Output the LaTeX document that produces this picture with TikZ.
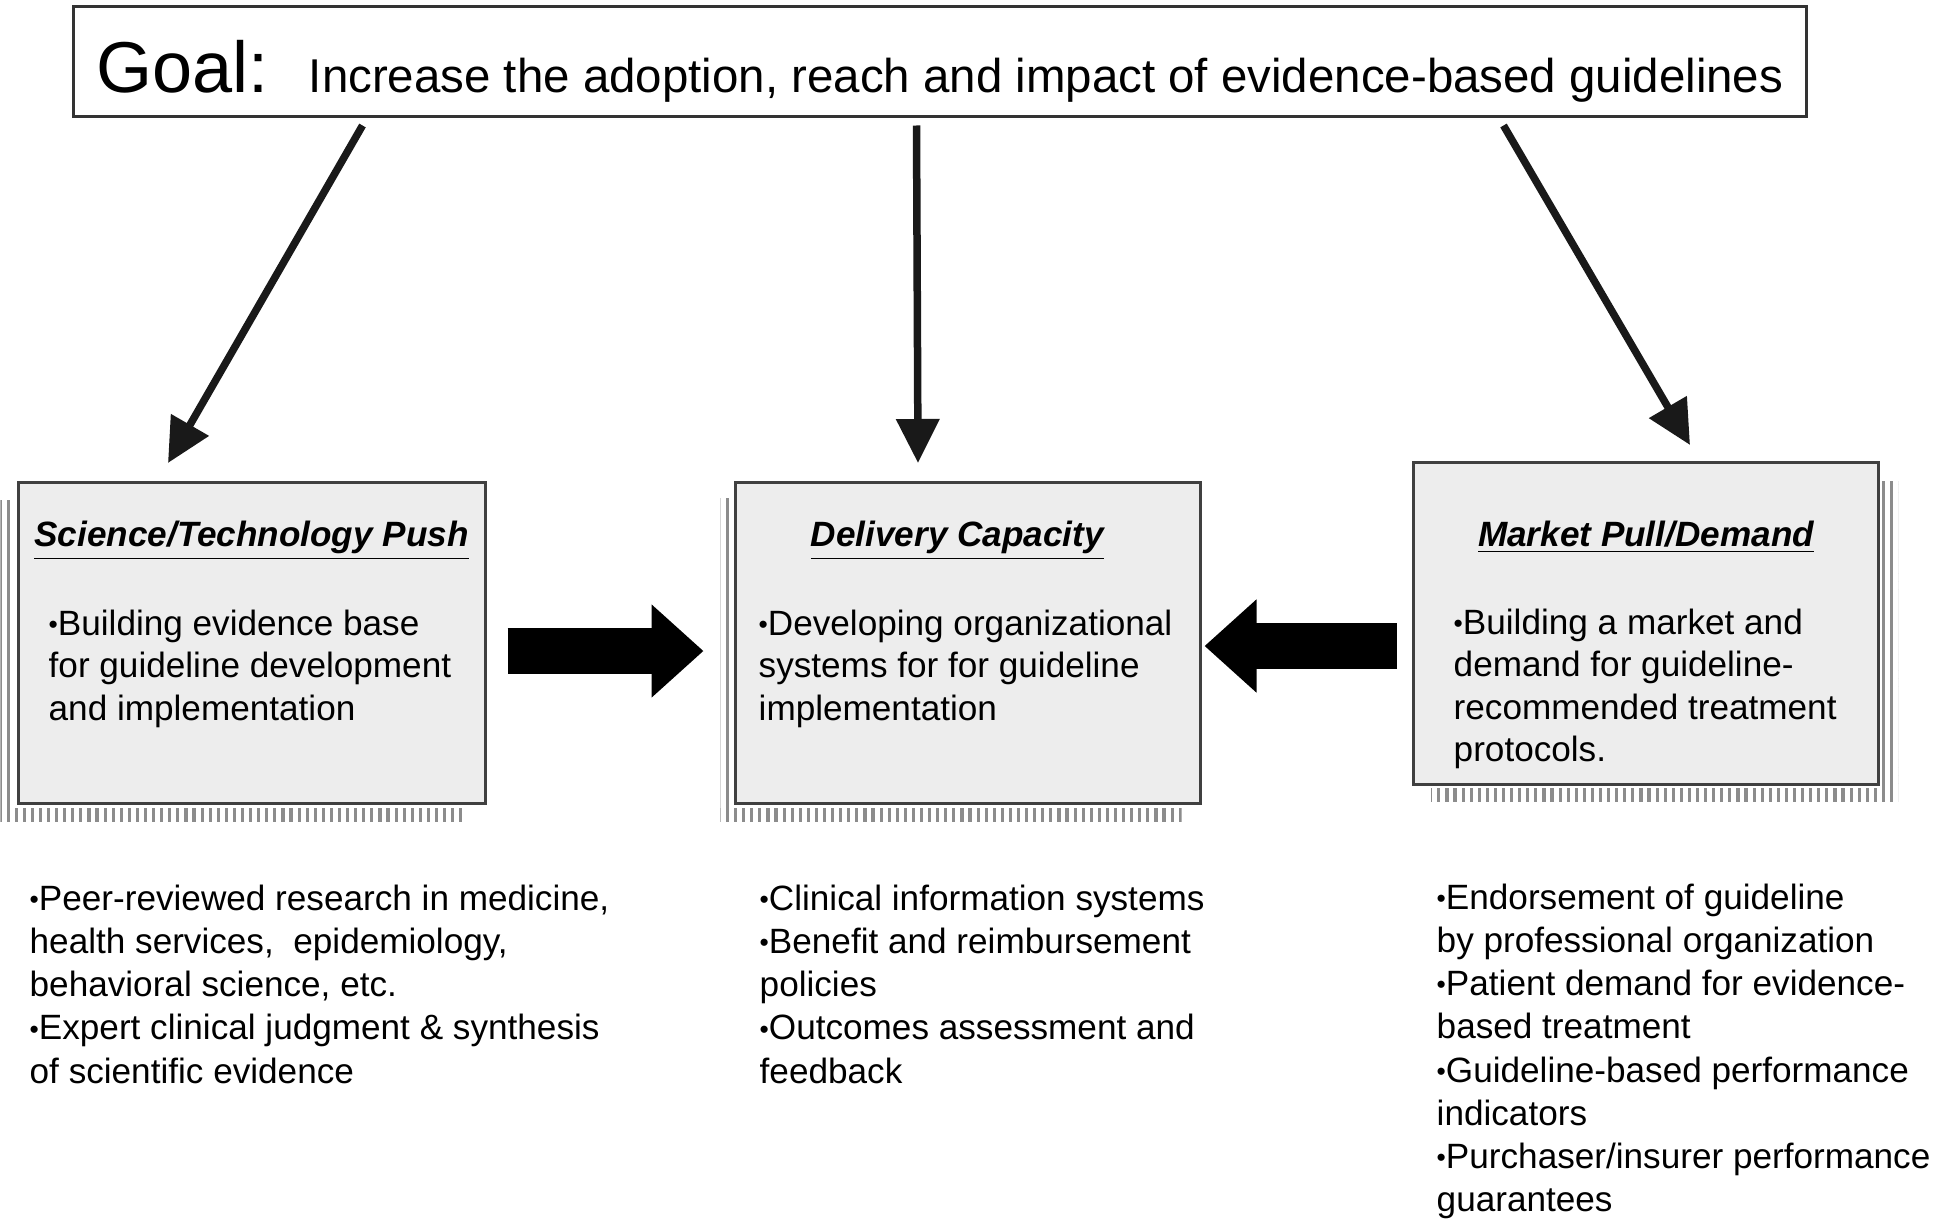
\documentclass[tikz,border=0pt]{standalone}
\usepackage{fontspec}
\setmainfont{Liberation Sans}
\usetikzlibrary{positioning, calc, arrows.meta, patterns.meta}

\newcommand{\dotmark}{\raisebox{0.05em}{\scalebox{0.75}{\textbullet}}}

\begin{document}
\begin{tikzpicture}[
            goalbox/.style={rectangle, draw=black!80, line width=0.03cm, fill=white, minimum width=17.32cm, minimum height=1.10cm, inner sep=0pt, text height=0.86cm, text depth=0.24cm},
            pillar/.style={rectangle, draw=black!75, line width=0.03cm, fill=black!7, inner sep=0pt},
            heading/.style={font=\fontsize{10}{12}\selectfont\bfseries\itshape, anchor=base, inner sep=0pt},
            boxtext/.style={font=\fontsize{10}{12.1}\selectfont, align=left, anchor=north west, inner sep=0pt},
            listtext/.style={font=\fontsize{10}{12.3}\selectfont, align=left, anchor=north west, inner sep=0pt},
            stripes/.style={pattern={Lines[angle=90, distance=2.3pt, line width=0.9pt]}, pattern color=black!45},
            goalarrow/.style={-{Triangle[length=0.44cm, width=0.42cm]}, line width=0.075cm, black!90},
            blockarrow/.style={-{Triangle[length=0.52cm, width=0.90cm]}, line width=0.46cm, black}
        ]
            \useasboundingbox (0,0) rectangle (19.46,-12.24);

            % --- goal ---
            \node[goalbox] (goal) at (9.40,-0.62) {{\fontsize{20.5}{24}\selectfont Goal:}\hspace{0.40cm}{\fontsize{13.5}{16}\selectfont Increase the adoption, reach and impact of evidence-based guidelines}};

            % --- three pillars ---
            \node[pillar, minimum width=4.67cm, minimum height=3.21cm] (sci) at (2.515,-6.425) {};
            \node[pillar, minimum width=4.65cm, minimum height=3.21cm] (deliv) at (9.675,-6.425) {};
            \node[pillar, minimum width=4.65cm, minimum height=3.22cm] (market) at (16.46,-6.235) {};

            % striped shadows
            \fill[stripes] ($(sci.north west)+(-0.16,-0.20)$) rectangle ($(sci.south west)+(-0.03,-0.17)$);
            \fill[stripes] ($(sci.south west)+(-0.06,-0.04)$) rectangle ($(sci.south east)+(-0.22,-0.17)$);
            \fill[stripes] ($(deliv.north west)+(-0.13,-0.18)$) rectangle ($(deliv.south west)+(-0.02,-0.17)$);
            \fill[stripes] ($(deliv.south west)+(-0.13,-0.04)$) rectangle ($(deliv.south east)+(-0.20,-0.17)$);
            \fill[stripes] ($(market.north east)+(0.02,-0.20)$) rectangle ($(market.south east)+(0.18,-0.15)$);
            \fill[stripes] ($(market.south west)+(0.19,-0.02)$) rectangle ($(market.south east)+(0.06,-0.15)$);

            % headings
            \node[heading] (sciHead) at ($(sci.north)+(0,-0.66)$) {\underline{Science/Technology Push}};
            \node[heading] (delivHead) at ($(deliv.north)+(-0.10,-0.66)$) {\underline{Delivery Capacity}};
            \node[heading] (marketHead) at ($(market.north)+(0,-0.85)$) {\underline{Market Pull/Demand}};

            % text in the boxes
            \node[boxtext] (sciText) at (0.48,-6.09) {\dotmark Building evidence base\\for guideline development\\and implementation};
            \node[boxtext] (delivText) at (7.58,-6.09) {\dotmark Developing organizational\\systems for for guideline\\implementation};
            \node[boxtext] (marketText) at (14.53,-6.08) {\dotmark Building a market and\\demand for guideline-\\recommended treatment\\protocols.};

            % --- lists under the boxes ---
            \node[listtext] (sciList) at (0.29,-8.84) {\dotmark Peer-reviewed research in medicine,\\health services,\ \ epidemiology,\\behavioral science, etc.\\\dotmark Expert clinical judgment \& synthesis\\of scientific evidence};
            \node[listtext] (delivList) at (7.59,-8.84) {\dotmark Clinical information systems\\\dotmark Benefit and reimbursement\\policies\\\dotmark Outcomes assessment and\\feedback};
            \node[listtext] (marketList) at (14.36,-8.83) {\dotmark Endorsement of guideline\\by professional organization\\\dotmark Patient demand for evidence-\\based treatment\\\dotmark Guideline-based performance\\indicators\\\dotmark Purchaser/insurer performance\\guarantees};

            % --- arrows from the goal ---
            \coordinate (pushTip) at (1.68,-4.63);
            \coordinate (delivTip) at (9.18,-4.63);
            \coordinate (pullTip) at (16.90,-4.45);
            \draw[goalarrow] ($(goal.south west)+(2.90,-0.07)$) -- (pushTip);
            \draw[goalarrow] ($(goal.south west)+(8.44,-0.07)$) -- (delivTip);
            \draw[goalarrow] ($(goal.south west)+(14.31,-0.07)$) -- (pullTip);

            % --- block arrows into delivery ---
            \draw[blockarrow, shorten <=0.21cm, shorten >=0.30cm] ([yshift=-0.085cm]sci.east) -- ([yshift=-0.085cm]deliv.west);
            \draw[blockarrow, shorten <=0.15cm, shorten >=0.03cm] ([yshift=-0.225cm]market.west) -- ([yshift=-0.035cm]deliv.east);
        \end{tikzpicture}
\end{document}
